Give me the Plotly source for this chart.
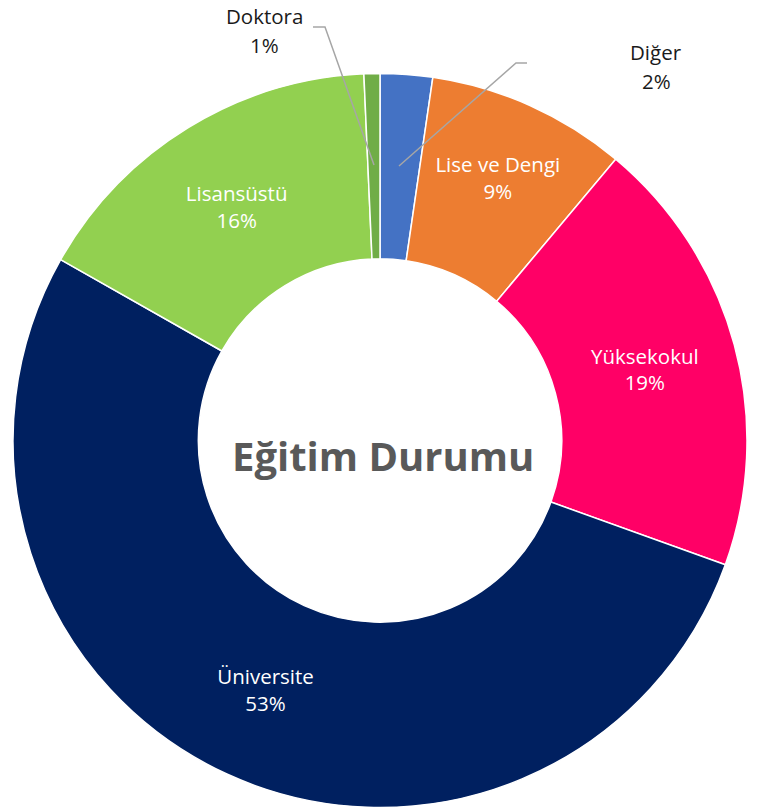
import plotly.graph_objects as go

# education levels, clockwise from 12 o'clock
labels = ["Diğer", "Lise ve Dengi", "Yüksekokul", "Üniversite", "Lisansüstü", "Doktora"]
values = [2.3, 8.8, 19.4, 52.7, 16.1, 0.7]
pct_labels = ["2%", "9%", "19%", "53%", "16%", "1%"]
colors = ["#4472C4", "#ED7D31", "#FF0066", "#002060", "#92D050", "#70AD47"]
text_pos = ["none", "inside", "inside", "inside", "inside", "none"]

W, H = 766, 809
FONT = "Open Sans"


def px(x, y):
    # pixel from top-left -> paper fraction
    return x / W, 1 - y / H


# ring: centre (380, 440.5), radius 367 pixels
(x0, y1), (x1, y0) = px(13, 73.5), px(747, 807.5)

fig = go.Figure()

fig.add_trace(go.Pie(
    labels=labels,
    values=values,
    sort=False,
    direction="clockwise",
    rotation=0,
    hole=0.495,
    marker=dict(colors=colors, line=dict(color="white", width=1.5)),
    texttemplate="%{label}<br>%{percent:.0%}",
    textposition=text_pos,
    insidetextorientation="horizontal",
    insidetextfont=dict(color="white", size=20.5, family=FONT),
    domain=dict(x=[x0, x1], y=[y0, y1]),
    showlegend=False,
))

# outside labels for the two thin slices (name line, percent line), with bent leader lines
outside = [
    (labels[5], pct_labels[5], 264, 16, 44.5, [(313, 27), (325, 27), (374, 165)]),
    (labels[0], pct_labels[0], 656, 52.5, 81, [(399, 166), (516, 63), (527, 63)]),
]
for name, pct, tx, ty_name, ty_pct, pts in outside:
    for txt, ty in ((name, ty_name), (pct, ty_pct)):
        ax, ay = px(tx, ty)
        fig.add_annotation(x=ax, y=ay, xref="paper", yref="paper", text=txt,
                           xanchor="center", yanchor="middle", showarrow=False,
                           font=dict(size=20.5, color="#1a1a1a", family=FONT))
    path = "M " + " L ".join(f"{px(x, y)[0]},{px(x, y)[1]}" for x, y in pts)
    fig.add_shape(type="path", path=path, xref="paper", yref="paper",
                  line=dict(color="#A6A6A6", width=1.5))

# centre title
cx, cy = px(383, 455)
fig.add_annotation(x=cx, y=cy, xref="paper", yref="paper", text="<b>Eğitim Durumu</b>",
                   xanchor="center", yanchor="middle", showarrow=False,
                   font=dict(size=40, color="#595959", family=FONT))

fig.update_layout(
    width=W, height=H,
    margin=dict(l=0, r=0, t=0, b=0),
    paper_bgcolor="white",
    plot_bgcolor="white",
    font=dict(family=FONT),
)

# drop the default page margin so the figure sits at the window's top-left corner
fig.write_html("out.html", config={"displayModeBar": False},
               post_script="document.body.style.margin = '0';")
